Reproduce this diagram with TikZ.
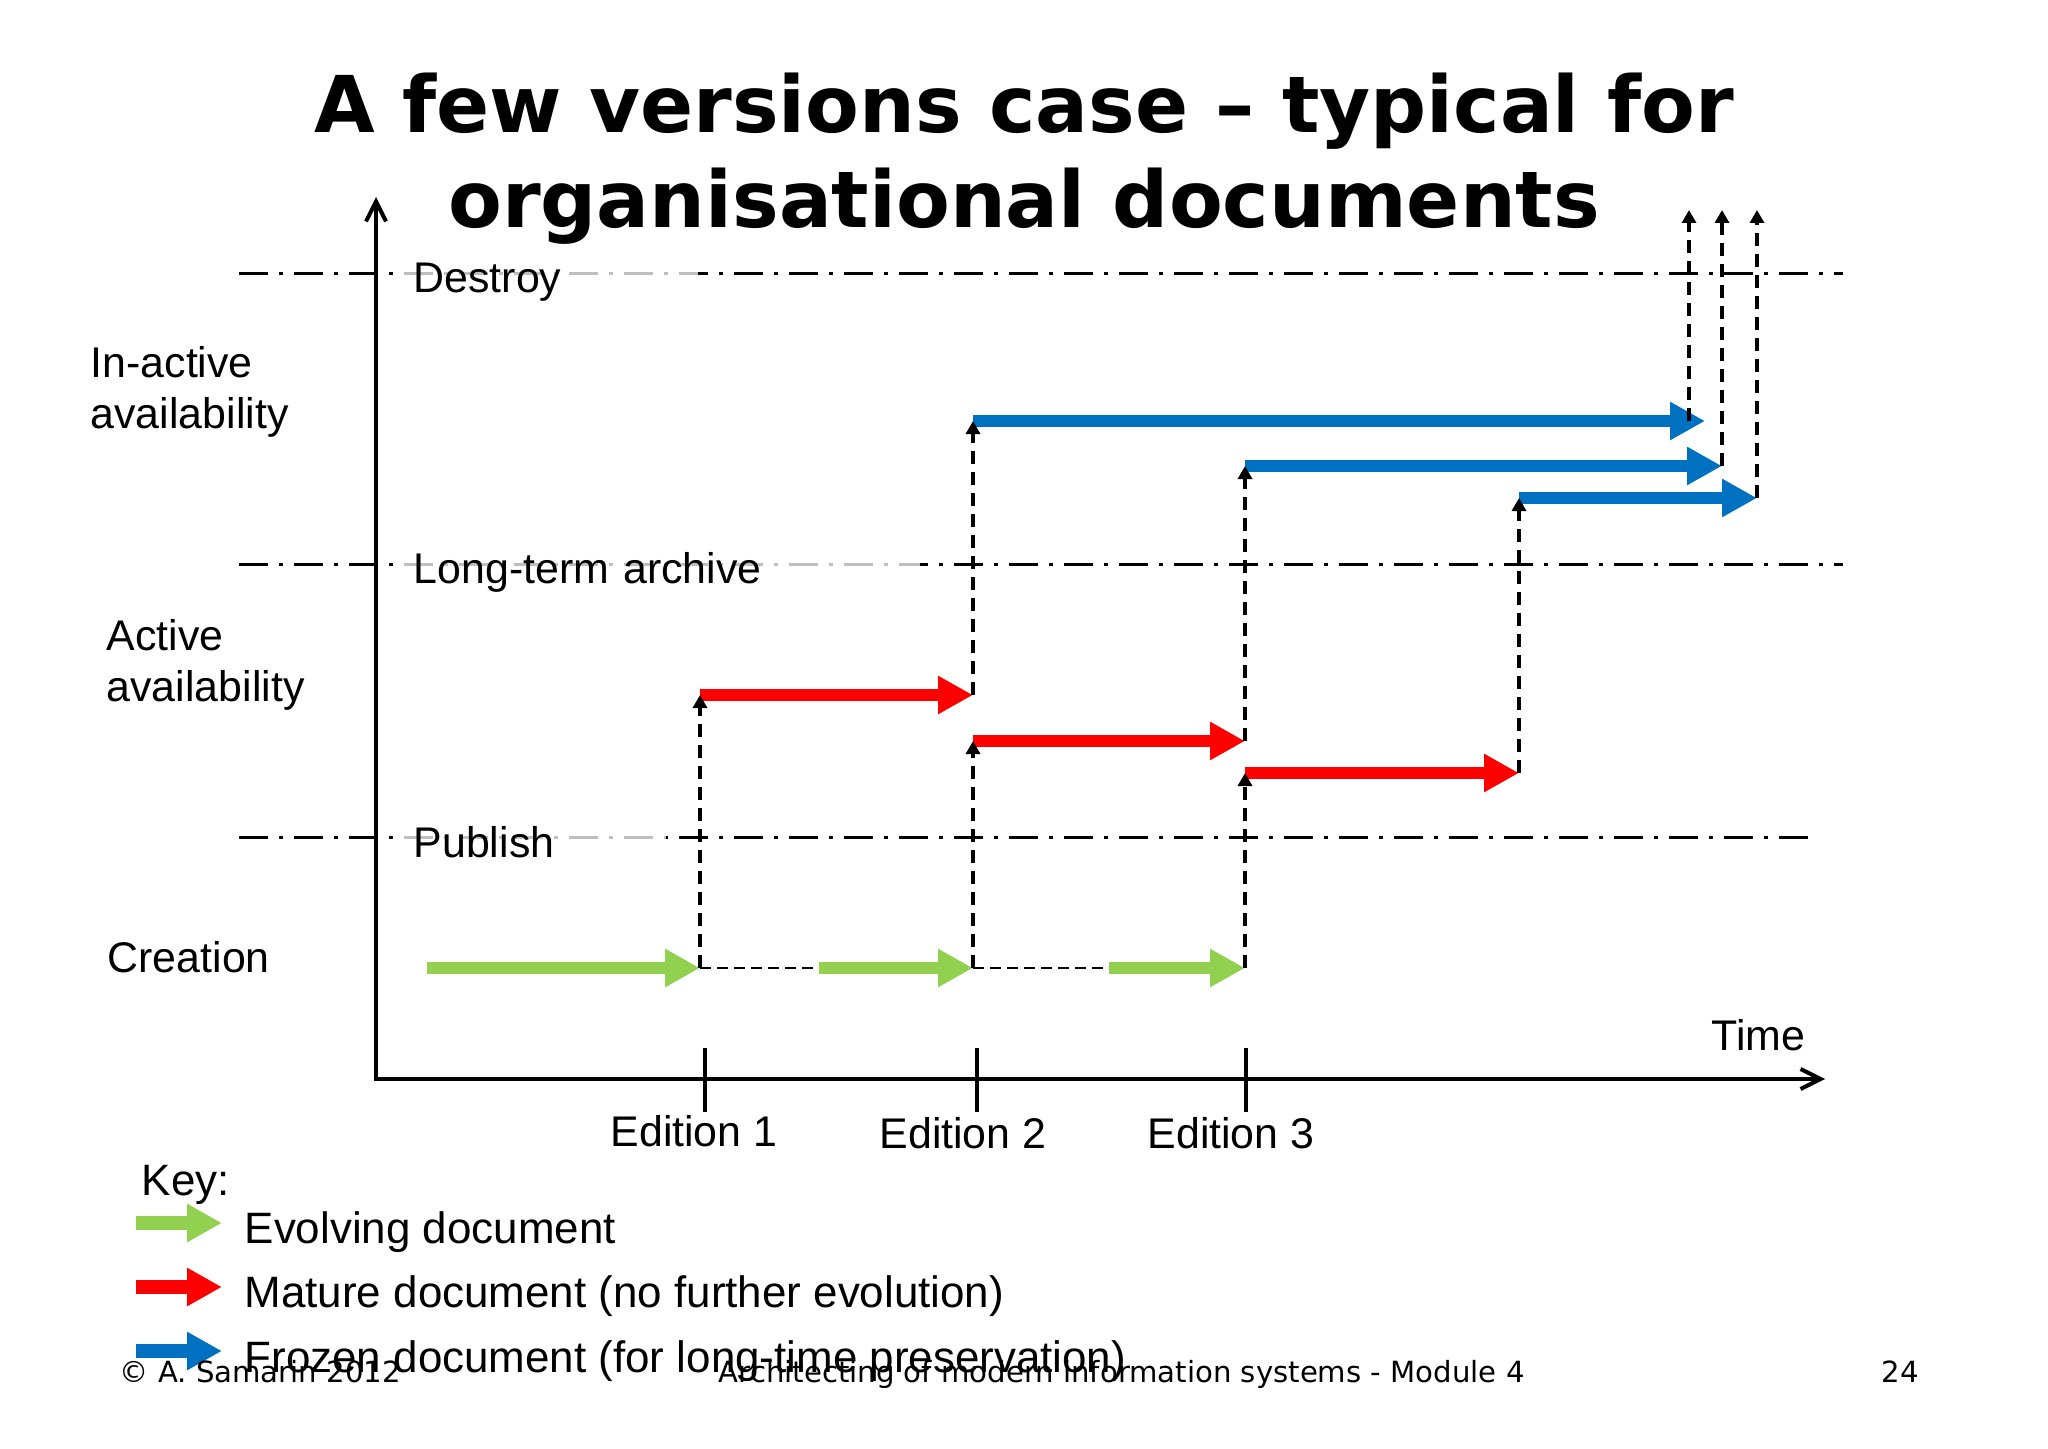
\documentclass[tikz,border=0pt]{standalone}
\usepackage{fontspec}
\setmainfont{Liberation Sans}
\newfontfamily\dejavu{DejaVu Sans}
\usetikzlibrary{arrows.meta}

\definecolor{evolgreen}{HTML}{92D050}
\definecolor{maturered}{HTML}{FF0000}
\definecolor{frozenblue}{HTML}{0070C0}

\begin{document}
\begin{tikzpicture}[x=0.1mm, y=-0.1mm,
		font=\fontsize{12.2pt}{14.5pt}\selectfont,
		% Styles
		lbl/.style={inner sep=0pt},
		levelline/.style={line width=0.3mm, dash pattern=on 2.9mm off 1.1mm on 0.4mm off 1.1mm},
		levellabel/.style={anchor=base west, inner xsep=1mm, inner ysep=1.5mm, fill=white, fill opacity=0.75, text opacity=1, align=left},
		axis/.style={line width=0.4mm, {Straight Barb[length=2mm,width=2mm]}-{Straight Barb[length=2mm,width=2mm]}},
		edtick/.style={line width=0.4mm},
		keytext/.style={lbl, anchor=base west, font=\fontsize{12.5pt}{15pt}\selectfont},
		footer/.style={lbl, anchor=base west, font={\dejavu\fontsize{8.3pt}{10pt}\selectfont}},
		% Arrows
		doc/.style={line width=1.2mm, -{Triangle[length=3.5mm,width=3.6mm]}},
		evolving/.style={doc, draw=evolgreen},
		mature/.style={doc, draw=maturered},
		frozen/.style={doc, draw=frozenblue},
		lift/.style={line width=0.4mm, dash pattern=on 1.3mm off 0.8mm, -{Triangle[length=1.3mm,width=1.4mm]}},
		idle/.style={line width=0.2mm, dash pattern=on 1.1mm off 0.6mm},
		]

		\useasboundingbox (0,0) rectangle (2048,1448);

		% Title
		\node[lbl, anchor=north, align=center, font={\dejavu\bfseries\fontsize{22.3pt}{27pt}\selectfont}] (title) at (1024,72) {A few versions case – typical for\\organisational documents};

		% Levels
		\draw[levelline] (239,273) -- (1843,273);
		\draw[levelline] (239,564) -- (1843,564);
		\draw[levelline] (239,837) -- (1815,837);
		\node[levellabel, text width=27.4mm] (destroy) at (403,292) {Destroy};
		\node[levellabel, text width=49.6mm] (archive) at (403,583) {Long-term archive};
		\node[levellabel, text width=24.2mm] (publish) at (403,857) {Publish};

		% Phases
		\node[lbl, anchor=north west, align=left] (inactive) at (90,346) {In-active\\availability};
		\node[lbl, anchor=north west, align=left] (active) at (106,619) {Active\\availability};
		\node[lbl, anchor=base west] (creation) at (107,972) {Creation};

		% Axes
		\draw[axis] (376,197) -- (376,1079) -- (1825,1079);
		\node[lbl, anchor=base west] (time) at (1711,1050) {Time};

		% Editions
		\draw[edtick] (705,1048) -- (705,1112);
		\draw[edtick] (977,1048) -- (977,1112);
		\draw[edtick] (1246,1048) -- (1246,1112);
		\node[lbl, anchor=base] (ed1) at (694,1146) {Edition 1};
		\node[lbl, anchor=base] (ed2) at (963,1148) {Edition 2};
		\node[lbl, anchor=base] (ed3) at (1231,1148) {Edition 3};

		% Lifecycle points
		\coordinate (g0) at (427,968);
		\coordinate (e1) at (700,968);
		\coordinate (g1) at (819,968);
		\coordinate (e2) at (973,968);
		\coordinate (g2) at (1109,968);
		\coordinate (e3) at (1245,968);
		\coordinate (m1) at (700,695);
		\coordinate (m1end) at (973,695);
		\coordinate (m2) at (973,741);
		\coordinate (m2end) at (1245,741);
		\coordinate (m3) at (1245,773);
		\coordinate (m3end) at (1519,773);
		\coordinate (f1) at (973,421);
		\coordinate (f1end) at (1705,421);
		\coordinate (f2) at (1245,466);
		\coordinate (f2end) at (1722,466);
		\coordinate (f3) at (1519,498);
		\coordinate (f3end) at (1757,498);
		\coordinate (d1) at (1689,421);
		\coordinate (d1top) at (1689,210);
		\coordinate (d2top) at (1722,210);
		\coordinate (d3top) at (1757,210);

		% Evolving
		\draw[idle] (e1) -- (g1);
		\draw[idle] (e2) -- (g2);
		\draw[evolving] (g0) -- (e1);
		\draw[evolving] (g1) -- (e2);
		\draw[evolving] (g2) -- (e3);

		% Mature
		\draw[mature] (m1) -- (m1end);
		\draw[mature] (m2) -- (m2end);
		\draw[mature] (m3) -- (m3end);

		% Frozen
		\draw[frozen] (f1) -- (f1end);
		\draw[frozen] (f2) -- (f2end);
		\draw[frozen] (f3) -- (f3end);

		% Transitions
		\draw[lift] (e1) -- (m1);
		\draw[lift] (e2) -- (m2);
		\draw[lift] (e3) -- (m3);
		\draw[lift] (m1end) -- (f1);
		\draw[lift] (m2end) -- (f2);
		\draw[lift] (m3end) -- (f3);
		\draw[lift] (d1) -- (d1top);
		\draw[lift] (f2end) -- (d2top);
		\draw[lift] (f3end) -- (d3top);

		% Key
		\node[keytext] (key) at (141,1195) {Key:};
		\draw[evolving, line width=1.4mm] (136,1223) -- (222,1223);
		\node[keytext] (keyevol) at (244,1243) {Evolving document};
		\draw[mature, line width=1.4mm] (136,1287) -- (222,1287);
		\node[keytext] (keymature) at (244,1307) {Mature document (no further evolution)};
		\draw[frozen, line width=1.4mm] (136,1351) -- (222,1351);
		\node[keytext] (keyfrozen) at (244,1372) {Frozen document (for long-time preservation)};

		% Footer
		\node[footer] (copy) at (119,1382) {© A. Samarin 2012};
		\node[footer] (course) at (718,1382) {Architecting of modern information systems - Module 4};
		\node[footer] (page) at (1881,1382) {24};

	\end{tikzpicture}
\end{document}
